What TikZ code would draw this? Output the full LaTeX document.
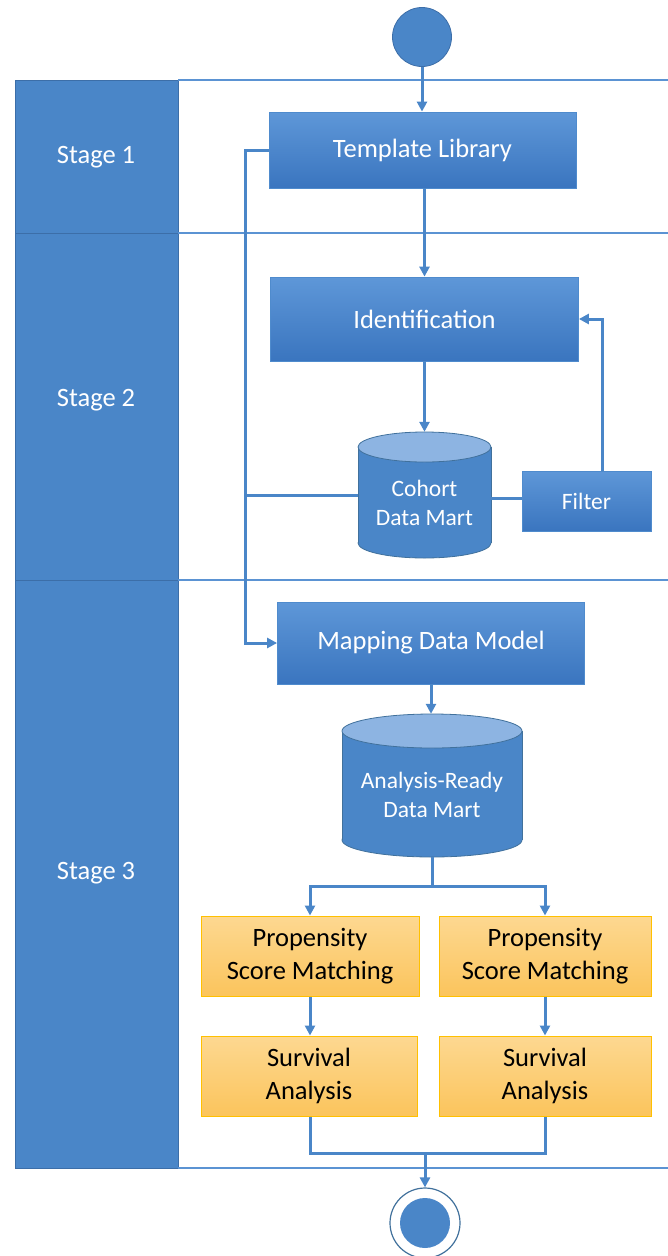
\documentclass[tikz,border=0pt]{standalone}
\usepackage{fontspec}
\setmainfont{Carlito}
\usetikzlibrary{arrows.meta,calc}
\definecolor{lane}{HTML}{4A86C8}
\definecolor{lanedark}{HTML}{3C6EA8}
\definecolor{laneline}{HTML}{5B93D3}
\definecolor{boxtop}{HTML}{5E97D8}
\definecolor{boxbot}{HTML}{3A75BF}
\definecolor{boxedge}{HTML}{4F8BCD}
\definecolor{cyltop}{HTML}{8DB4E2}
\definecolor{cyledge}{HTML}{41719C}
\definecolor{ortop}{HTML}{FDD891}
\definecolor{orbot}{HTML}{FBC45C}
\definecolor{oredge}{HTML}{FFC000}
\definecolor{endring}{HTML}{41719C}
\newcommand\bigfont{\fontsize{26.5}{33}\selectfont}
\newcommand\smfont{\fontsize{23.5}{29}\selectfont}
\newcommand\dbcyl[5]{% cx, top, rx, ry, bottom
  \fill[lane,draw=cyledge,line width=0.8pt] (#1,{#5-#4}) ellipse [x radius=#3, y radius=#4];
  \fill[lane] ({#1-#3},{#2+#4}) rectangle ({#1+#3},{#5-#4});
  \draw[cyledge,line width=0.8pt] ({#1-#3},{#2+#4}) -- ({#1-#3},{#5-#4});
  \draw[cyledge,line width=0.8pt] ({#1+#3},{#2+#4}) -- ({#1+#3},{#5-#4});
  \fill[cyltop,draw=cyledge,line width=0.8pt] (#1,{#2+#4}) ellipse [x radius=#3, y radius=#4];
}
\tikzset{
  conn/.style={draw=lane, line width=3pt},
  arr/.style={conn, -{Triangle[length=10pt,width=10pt]}},
  lanerule/.style={draw=laneline, line width=1.2pt},
  stagecell/.style={fill=lane, draw=lanedark, line width=1pt},
  stagelabel/.style={text=white, font=\bigfont},
  bluebox/.style={rectangle, inner sep=0pt, top color=boxtop, bottom color=boxbot, draw=boxedge, line width=0.8pt, text=white, font=\bigfont, align=center},
  orangebox/.style={rectangle, inner sep=0pt, top color=ortop, bottom color=orbot, draw=oredge, line width=1pt, text=black, font=\bigfont, align=center},
  cylnode/.style={rectangle, inner sep=0pt},
  cyltext/.style={text=white, font=\smfont, align=center, inner sep=0pt},
}
\begin{document}
\begin{tikzpicture}[x=1pt,y=-1pt]
\useasboundingbox (0,0) rectangle (668,1256);
% swimlanes
\draw[stagecell] (15,80) rectangle (178,233);
\draw[stagecell] (15,233) rectangle (178,580);
\draw[stagecell] (15,580) rectangle (178,1168);
\foreach \yy in {80,233,580,1168} \draw[lanerule] (178,\yy) -- (668,\yy);
\node[stagelabel] (s1) at (96,157) {Stage 1};
\node[stagelabel] (s2) at (96,400) {Stage 2};
\node[stagelabel] (s3) at (96,873) {Stage 3};
% start
\node[circle, minimum size=59pt, inner sep=0pt, fill=lane, draw=lanedark, line width=0.8pt] (start) at (422,37) {};
% boxes
\node[bluebox, minimum width=307pt, minimum height=76pt] (tmpl) at (422.5,150) {Template Library};
\node[bluebox, minimum width=308pt, minimum height=84pt] (ident) at (424.5,319) {Identification};
\node[bluebox, minimum width=129pt, minimum height=60pt, font=\smfont] (filter) at (586.5,501) {Filter};
\node[bluebox, minimum width=307pt, minimum height=82pt] (mapping) at (431,643) {Mapping Data Model};
% cylinders
\dbcyl{424.5}{432}{66.5}{15}{558}
\node[cylnode, minimum width=133pt, minimum height=126pt] (cohort) at (424.5,495) {};
\node[cyltext] (cohorttxt) at (424.5,503) {Cohort\\Data Mart};
\dbcyl{432}{714}{90}{17}{857}
\node[cylnode, minimum width=180pt, minimum height=143pt] (analysis) at (432,785.5) {};
\node[cyltext] (analysistxt) at (432,795) {Analysis-Ready\\Data Mart};
% orange
\node[orangebox, minimum width=218pt, minimum height=80pt] (psmL) at (310,956) {Propensity\\Score Matching};
\node[orangebox, minimum width=212pt, minimum height=80pt] (psmR) at (545,956) {Propensity\\Score Matching};
\node[orangebox, minimum width=216pt, minimum height=80pt] (survL) at (309,1076) {Survival\\Analysis};
\node[orangebox, minimum width=212pt, minimum height=80pt] (survR) at (545,1076) {Survival\\Analysis};
% end
\node[circle, minimum size=70pt, inner sep=0pt, fill=white, draw=endring, line width=1.2pt] (end) at (425,1223) {};
\node[circle, minimum size=50pt, inner sep=0pt, fill=lane] (endin) at (end.center) {};
% connectors
\draw[arr] (start.south) -- (start.south |- tmpl.north);
\draw[arr] (ident.north |- tmpl.south) -- (ident.north);
\draw[arr] (ident.south) -- (ident.south |- cohort.north);
\draw[conn] (cohort.east |- 0,498) -- (filter.west |- 0,498);
\draw[arr] ([xshift=15.5pt]filter.north) |- (ident.east);
\coordinate (bus) at (245,150);
\draw[arr] (tmpl.west) -- (bus) -- (bus |- mapping.west) -- (mapping.west);
\draw[conn] (cohort.west) -- (cohort.west -| bus);
\draw[arr] (mapping.south) -- (mapping.south |- analysis.north);
\coordinate (fork) at (432,886);
\draw[conn] (analysis.south) -- (fork);
\draw[arr] (fork) -| (psmL.north);
\draw[arr] (fork) -| (psmR.north);
\draw[arr] (psmL.south) -- (psmL.south |- survL.north);
\draw[arr] (psmR.south) -- (psmR.south |- survR.north);
\coordinate (merge) at (425,1153);
\draw[conn] (survL.south -| psmL.south) |- (survR.south |- merge) -- (survR.south);
\draw[arr] (merge) -- (end.north);
\end{tikzpicture}
\end{document}
